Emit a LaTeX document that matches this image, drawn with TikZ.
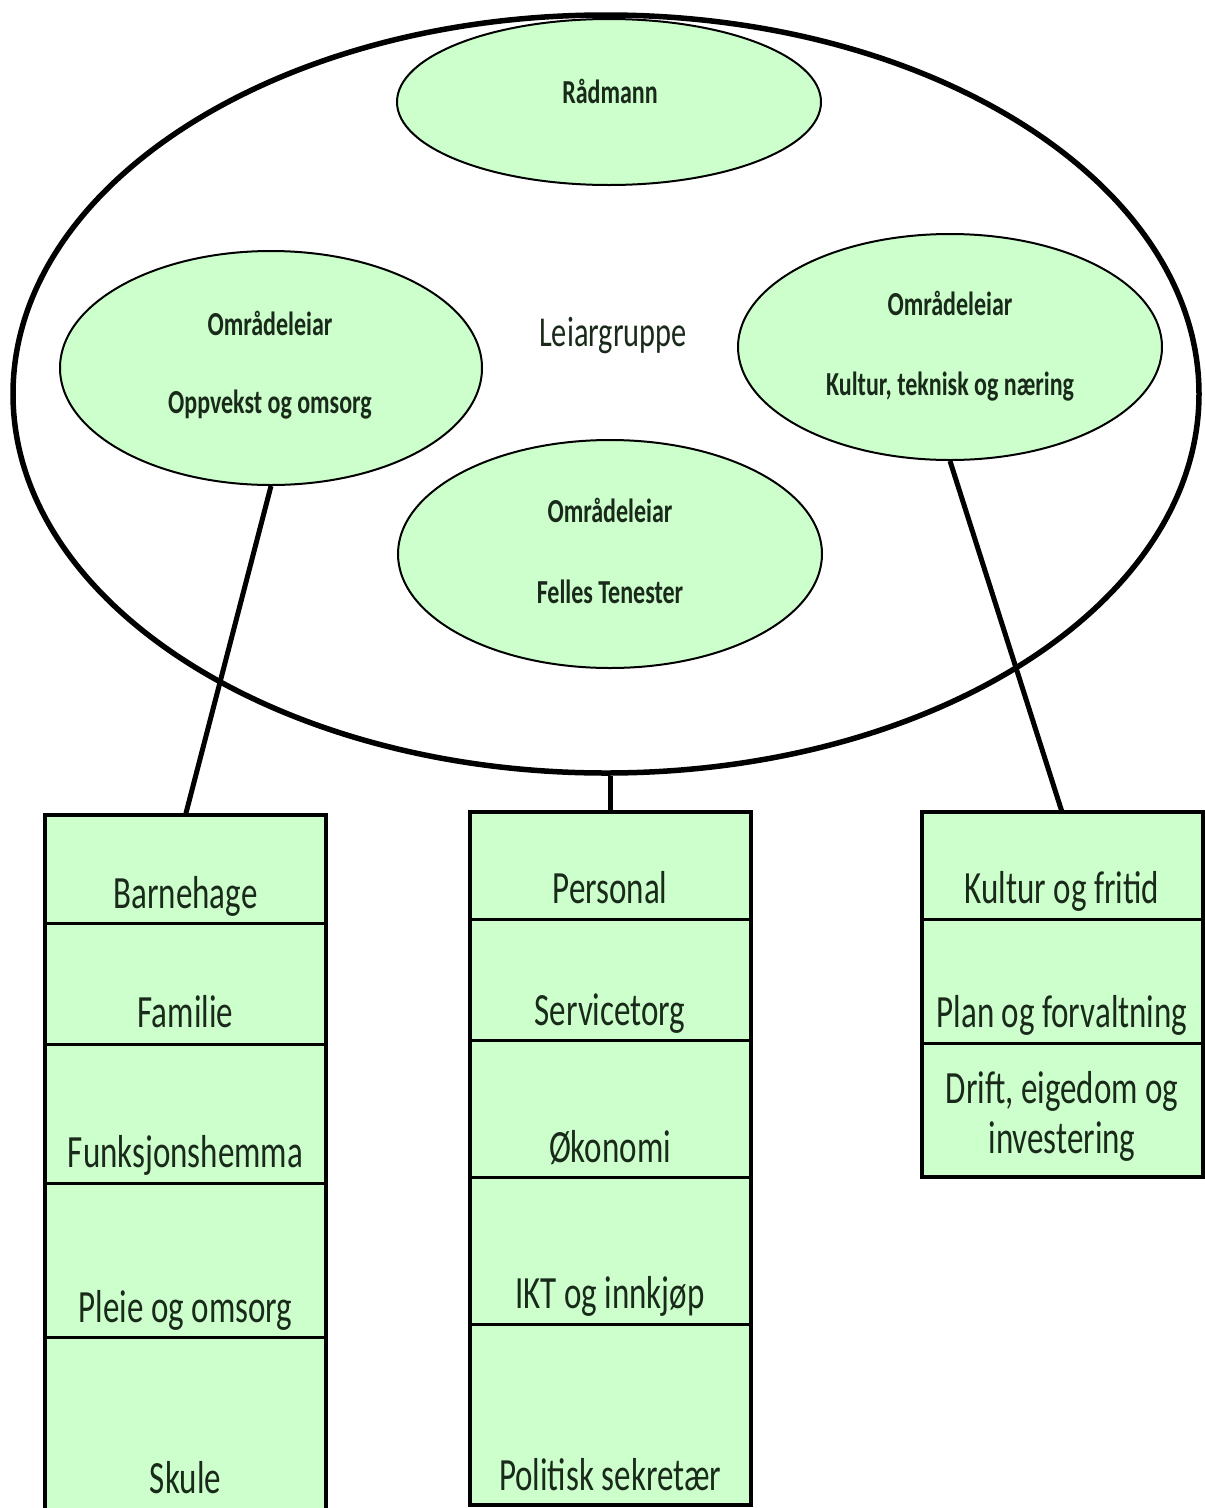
\documentclass[tikz,border=0pt]{standalone}
\usepackage{fontspec}
\setmainfont{Carlito}
\usepackage{graphicx}
\usetikzlibrary{positioning, shapes.geometric}

\definecolor{areagreen}{HTML}{CCFFCC}
\definecolor{textdark}{HTML}{1A2A1A}
\newcommand{\tall}[1]{\scalebox{1}[1.4]{#1}}

\begin{document}
\begin{tikzpicture}[
x=1pt, y=-1pt,
group/.style={draw, ellipse, line width=5.5pt, inner sep=0pt},
leader/.style={draw, ellipse, fill=areagreen, line width=2pt, inner sep=0pt, minimum width=424pt},
title/.style={anchor=base, inner sep=0pt, text=textdark, font=\bfseries\fontsize{24}{26}\selectfont},
cell/.style={draw, fill=areagreen, line width=3pt, minimum width=281pt, inner sep=0pt, outer sep=0pt, text=textdark, font=\fontsize{33}{36}\selectfont},
frame/.style={line width=4pt},
link/.style={line width=5pt}
]
\useasboundingbox (0,0) rectangle (1205,1508);

% Leiargruppe
\node[group, minimum width=1186pt, minimum height=758pt] (leiargruppe) at (606,394) {};
\node[anchor=base, inner sep=0pt, text=textdark, font=\fontsize{30.4}{32}\selectfont] (leiartext) at (613,346) {\tall{Leiargruppe}};

% Leiarar
\node[leader, minimum height=166pt] (radmann) at (609,102) {};
\node[leader, minimum width=422pt, minimum height=234pt] (oppvekst) at (271,368) {};
\node[leader, minimum height=226pt] (kultur) at (950,347) {};
\node[leader, minimum height=228pt] (felles) at (610,554) {};

\node[title] (radmanntext) at (610,103) {\tall{Rådmann}};
\node[title] (oppvekstleiar) at (270,335) {\tall{Områdeleiar}};
\node[title] (oppvekstnamn) at (270,413) {\tall{Oppvekst og omsorg}};
\node[title] (kulturleiar) at (950,315) {\tall{Områdeleiar}};
\node[title] (kulturnamn) at (950,395) {\tall{Kultur, teknisk og næring}};
\node[title] (fellesleiar) at (610,522) {\tall{Områdeleiar}};
\node[title] (fellesnamn) at (610,603) {\tall{Felles Tenester}};

% Oppvekst og omsorg
\node[cell, anchor=north, text height=93pt, text depth=15pt] (barnehage) at (185.5,815) {\tall{Barnehage}};
\node[cell, below=0pt of barnehage, text height=104pt, text depth=17pt] (familie) {\tall{Familie}};
\node[cell, below=0pt of familie, text height=123pt, text depth=16pt] (funksjon) {\tall{Funksjonshemma}};
\node[cell, below=0pt of funksjon, text height=139pt, text depth=15pt] (pleie) {\tall{Pleie og omsorg}};
\node[cell, below=0pt of pleie, text height=156pt, text depth=19pt] (skule) {\tall{Skule}};
\draw[frame] (barnehage.north west) rectangle (skule.south east);

% Felles tenester
\node[cell, anchor=north, text height=91pt, text depth=16pt] (personal) at (610,812) {\tall{Personal}};
\node[cell, below=0pt of personal, text height=106pt, text depth=15pt] (service) {\tall{Servicetorg}};
\node[cell, below=0pt of service, text height=122pt, text depth=15pt] (okonomi) {\tall{Økonomi}};
\node[cell, below=0pt of okonomi, text height=131pt, text depth=16pt] (ikt) {\tall{IKT og innkjøp}};
\node[cell, below=0pt of ikt, text height=166pt, text depth=15pt] (politisk) {\tall{Politisk sekretær}};
\draw[frame] (personal.north west) rectangle (politisk.south east);

% Kultur, teknisk og naering
\node[cell, anchor=north, text height=91pt, text depth=16pt] (fritid) at (1062,812) {\tall{Kultur og fritid}};
\node[cell, below=0pt of fritid, text height=108pt, text depth=16pt] (plan) {\tall{Plan og forvaltning}};
\node[cell, below=0pt of plan, text height=110pt, text depth=24pt, font=\fontsize{33}{35.7}\selectfont] (drift)
  {\tall{\begin{tabular}[b]{@{}c@{}}Drift, eigedom og\\investering\end{tabular}}};
\draw[frame] (fritid.north west) rectangle (drift.south east);

% Connections
\draw[link] (oppvekst.south) -- (barnehage.north);
\draw[link] (personal.north |- leiargruppe.south) -- (personal.north);
\draw[link] (kultur.south) -- (fritid.north);

\end{tikzpicture}
\end{document}
